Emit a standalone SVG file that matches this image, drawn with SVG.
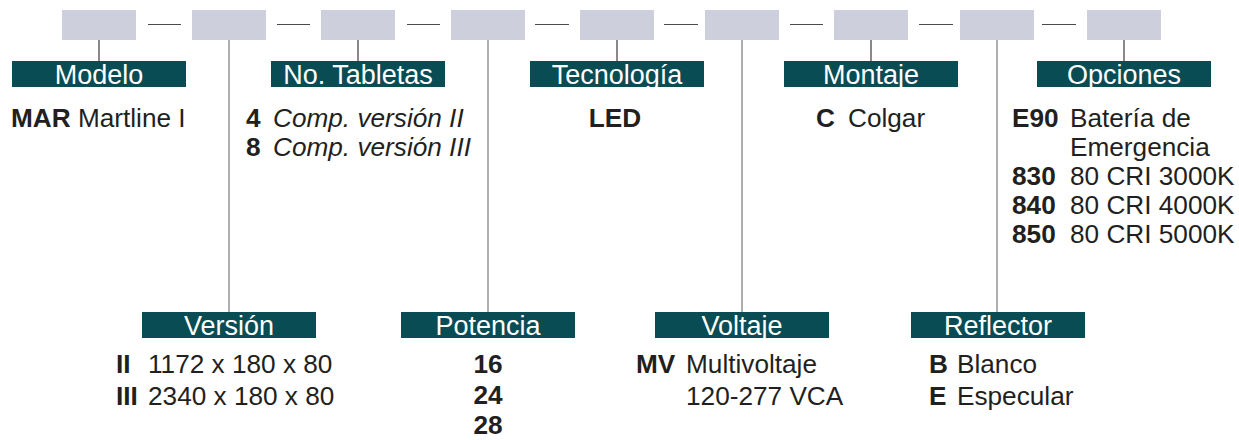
<svg xmlns="http://www.w3.org/2000/svg" width="1239" height="440" viewBox="0 0 1239 440">
<style>
.box{fill:#cdcfdc}
.lbl{fill:#0a4c54}
.lt{font-family:"Liberation Sans",Arial,sans-serif;font-size:27px;fill:#ffffff;text-anchor:middle}
.t{font-family:"Liberation Sans",Arial,sans-serif;font-size:26.2px;fill:#231f20}
.b{font-weight:bold}
.i{font-style:italic}
.dash{stroke:#4a4a4a;stroke-width:1.2}
.short{stroke:#4a4a4a;stroke-width:1.3}
.long{stroke:#9a9a9a;stroke-width:1.6}
</style>
<rect width="1239" height="440" fill="#ffffff"/>
<g id="connectors">
<line class="dash" x1="148" y1="24.5" x2="181" y2="24.5"/>
<line class="dash" x1="277" y1="24.5" x2="310" y2="24.5"/>
<line class="dash" x1="407" y1="24.5" x2="440" y2="24.5"/>
<line class="dash" x1="535" y1="24.5" x2="569" y2="24.5"/>
<line class="dash" x1="664" y1="24.5" x2="698" y2="24.5"/>
<line class="dash" x1="790" y1="24.5" x2="823" y2="24.5"/>
<line class="dash" x1="919" y1="24.5" x2="953" y2="24.5"/>
<line class="dash" x1="1042" y1="24.5" x2="1076" y2="24.5"/>
<line class="short" x1="99" y1="40" x2="99" y2="61"/>
<line class="long" x1="229" y1="40" x2="229" y2="312"/>
<line class="short" x1="358" y1="40" x2="358" y2="61"/>
<line class="long" x1="488" y1="40" x2="488" y2="312"/>
<line class="short" x1="617" y1="40" x2="617" y2="61"/>
<line class="long" x1="742" y1="40" x2="742" y2="312"/>
<line class="short" x1="871" y1="40" x2="871" y2="61"/>
<line class="long" x1="997" y1="40" x2="997" y2="312"/>
<line class="short" x1="1124" y1="40" x2="1124" y2="61"/>
</g>
<g id="slots">
<rect class="box" x="62" y="10" width="74" height="30"/>
<rect class="box" x="192" y="10" width="74" height="30"/>
<rect class="box" x="321" y="10" width="74" height="30"/>
<rect class="box" x="451" y="10" width="74" height="30"/>
<rect class="box" x="580" y="10" width="74" height="30"/>
<rect class="box" x="705" y="10" width="74" height="30"/>
<rect class="box" x="834" y="10" width="74" height="30"/>
<rect class="box" x="960" y="10" width="74" height="30"/>
<rect class="box" x="1087" y="10" width="74" height="30"/>
</g>
<g id="modelo">
<rect class="lbl" x="12" y="61" width="174" height="26"/>
<text class="lt" x="99" y="83.5">Modelo</text>
<text class="t" x="11" y="127"><tspan class="b">MAR</tspan> Martline I</text>
</g>
<g id="tabletas">
<rect class="lbl" x="271" y="61" width="174" height="26"/>
<text class="lt" x="358" y="83.5">No. Tabletas</text>
<text class="t" x="246" y="127"><tspan class="b">4</tspan><tspan class="i" x="273">Comp. versión II</tspan></text>
<text class="t" x="246" y="156"><tspan class="b">8</tspan><tspan class="i" x="273">Comp. versión III</tspan></text>
</g>
<g id="tecnologia">
<rect class="lbl" x="530" y="61" width="174" height="26"/>
<text class="lt" x="617" y="83.5">Tecnología</text>
<text class="t b" x="615" y="127" text-anchor="middle">LED</text>
</g>
<g id="montaje">
<rect class="lbl" x="784" y="61" width="174" height="26"/>
<text class="lt" x="871" y="83.5">Montaje</text>
<text class="t" x="816" y="127"><tspan class="b">C</tspan><tspan x="848">Colgar</tspan></text>
</g>
<g id="opciones">
<rect class="lbl" x="1037" y="61" width="174" height="26"/>
<text class="lt" x="1124" y="83.5">Opciones</text>
<text class="t" x="1012" y="127"><tspan class="b">E90</tspan><tspan x="1070">Batería de</tspan></text>
<text class="t" x="1070" y="156">Emergencia</text>
<text class="t" x="1012" y="185"><tspan class="b">830</tspan><tspan x="1070">80 CRI 3000K</tspan></text>
<text class="t" x="1012" y="214"><tspan class="b">840</tspan><tspan x="1070">80 CRI 4000K</tspan></text>
<text class="t" x="1012" y="243"><tspan class="b">850</tspan><tspan x="1070">80 CRI 5000K</tspan></text>
</g>
<g id="version">
<rect class="lbl" x="142" y="312" width="174" height="26"/>
<text class="lt" x="229" y="334.5">Versión</text>
<text class="t" x="116" y="373"><tspan class="b">II</tspan><tspan x="148">1172 x 180 x 80</tspan></text>
<text class="t" x="116" y="405"><tspan class="b">III</tspan><tspan x="148">2340 x 180 x 80</tspan></text>
</g>
<g id="potencia">
<rect class="lbl" x="401" y="312" width="174" height="26"/>
<text class="lt" x="488" y="334.5">Potencia</text>
<text class="t b" x="488" y="373" text-anchor="middle">16</text>
<text class="t b" x="488" y="404" text-anchor="middle">24</text>
<text class="t b" x="488" y="434" text-anchor="middle">28</text>
</g>
<g id="voltaje">
<rect class="lbl" x="655" y="312" width="174" height="26"/>
<text class="lt" x="742" y="334.5">Voltaje</text>
<text class="t" x="636" y="373"><tspan class="b">MV</tspan><tspan x="686">Multivoltaje</tspan></text>
<text class="t" x="686" y="405">120-277 VCA</text>
</g>
<g id="reflector">
<rect class="lbl" x="911" y="312" width="174" height="26"/>
<text class="lt" x="998" y="334.5">Reflector</text>
<text class="t" x="929" y="373"><tspan class="b">B</tspan><tspan x="957">Blanco</tspan></text>
<text class="t" x="929" y="405"><tspan class="b">E</tspan><tspan x="957">Especular</tspan></text>
</g>
</svg>
